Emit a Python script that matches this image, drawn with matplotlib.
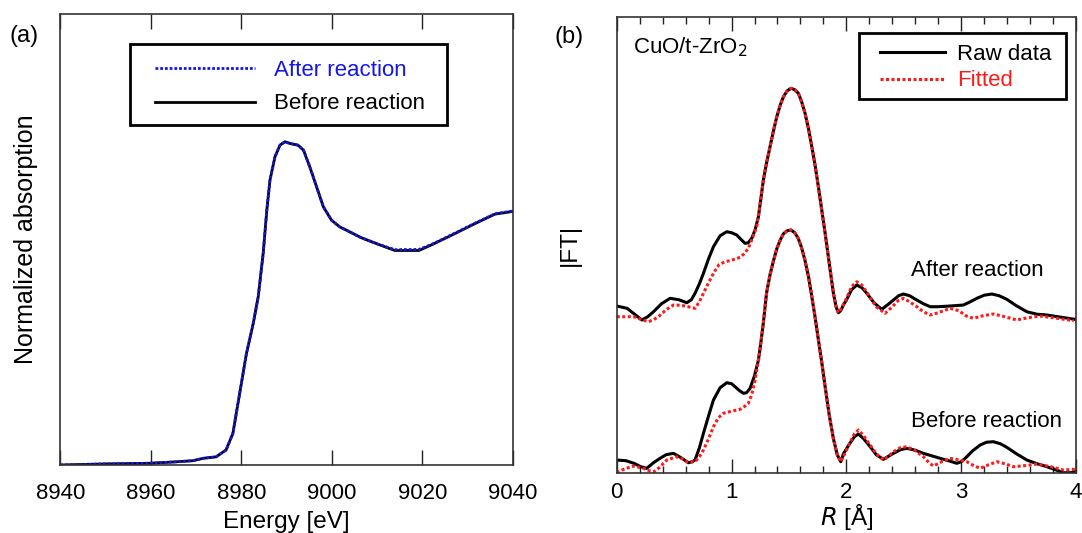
import matplotlib
matplotlib.use('Agg')
import matplotlib.pyplot as plt
import numpy as np
from matplotlib.ticker import MultipleLocator
from matplotlib.patches import Rectangle

plt.rcParams['font.family'] = ['Liberation Sans', 'DejaVu Sans']

# (a) XANES, energy in eV, normalized absorption
energy = [8940, 8950, 8959.6, 8965, 8969.3, 8971.5, 8974.4, 8976.6, 8978.1, 8979.6,
          8981.1, 8982.6, 8983.7, 8984.8, 8985.6, 8986.3, 8987.4, 8988.5, 8989.6, 8990.7,
          8992.5, 8993.7, 8995.1, 8996.6, 8998.1, 8999.9, 9001.7, 9003.9, 9006.4, 9010.2,
          9013.9, 9019.2, 9022.3, 9026.9, 9031.4, 9036, 9040]
before_abs = [0.0, 0.005, 0.008, 0.014, 0.020, 0.031, 0.038, 0.070, 0.147, 0.333,
              0.519, 0.659, 0.783, 0.985, 1.186, 1.326, 1.434, 1.488, 1.504, 1.496,
              1.488, 1.465, 1.387, 1.294, 1.201, 1.139, 1.108, 1.085, 1.058, 1.027,
              0.998, 0.998, 1.027, 1.074, 1.121, 1.167, 1.180]
after_abs = [0.0, 0.005, 0.008, 0.014, 0.020, 0.031, 0.038, 0.070, 0.147, 0.333,
             0.519, 0.659, 0.783, 0.985, 1.186, 1.326, 1.434, 1.488, 1.504, 1.496,
             1.488, 1.465, 1.387, 1.294, 1.201, 1.139, 1.108, 1.085, 1.058, 1.027,
             1.002, 1.003, 1.029, 1.076, 1.123, 1.169, 1.182]

# (b) |FT| of EXAFS, R in angstrom
r_after_raw = [0, 0.09, 0.15, 0.218, 0.27, 0.32, 0.39, 0.465, 0.54, 0.61,
               0.65, 0.682, 0.72, 0.755, 0.8, 0.842, 0.9, 0.958, 1.0, 1.045,
               1.085, 1.117, 1.145, 1.176, 1.205, 1.234, 1.255, 1.277, 1.305, 1.335,
               1.365, 1.394, 1.425, 1.452, 1.485, 1.518, 1.55, 1.582, 1.61, 1.64,
               1.67, 1.699, 1.728, 1.756, 1.785, 1.815, 1.85, 1.887, 1.91, 1.93,
               1.95, 1.975, 2.0, 2.045, 2.09, 2.135, 2.178, 2.24, 2.308, 2.36,
               2.41, 2.455, 2.497, 2.55, 2.613, 2.67, 2.73, 2.8, 2.903, 3.02,
               3.08, 3.136, 3.2, 3.267, 3.33, 3.397, 3.48, 3.571, 3.66, 3.746,
               3.87, 3.99]
ft_after_raw = [0.167, 0.144, 0.09, 0.027, 0.06, 0.11, 0.19, 0.244, 0.23, 0.20,
                0.23, 0.294, 0.39, 0.494, 0.64, 0.76, 0.87, 0.91, 0.90, 0.877,
                0.83, 0.794, 0.80, 0.844, 0.93, 1.06, 1.24, 1.427, 1.60, 1.76,
                1.92, 2.06, 2.18, 2.26, 2.32, 2.344, 2.33, 2.294, 2.21, 2.094,
                1.94, 1.76, 1.57, 1.36, 1.13, 0.894, 0.60, 0.294, 0.16, 0.10,
                0.12, 0.18, 0.227, 0.33, 0.377, 0.35, 0.294, 0.20, 0.134, 0.18,
                0.227, 0.27, 0.287, 0.27, 0.227, 0.19, 0.16, 0.16, 0.167, 0.177,
                0.21, 0.244, 0.275, 0.287, 0.27, 0.234, 0.17, 0.11, 0.085, 0.077,
                0.055, 0.034]

r_after_fit = [0, 0.15, 0.22, 0.276, 0.32, 0.363, 0.43, 0.494, 0.55, 0.595,
               0.682, 0.72, 0.755, 0.8, 0.842, 0.89, 0.943, 1.0, 1.074, 1.11,
               1.146, 1.18, 1.219, 1.25, 1.277, 1.305, 1.335, 1.365, 1.394, 1.425,
               1.452, 1.485, 1.518, 1.55, 1.582, 1.61, 1.64, 1.67, 1.699, 1.728,
               1.756, 1.785, 1.815, 1.85, 1.887, 1.91, 1.93, 1.95, 2.0, 2.045,
               2.09, 2.14, 2.193, 2.26, 2.337, 2.4, 2.45, 2.497, 2.55, 2.613,
               2.67, 2.73, 2.8, 2.903, 2.98, 3.04, 3.107, 3.19, 3.28, 3.38,
               3.484, 3.58, 3.687, 3.8, 3.98]
ft_after_fit = [0.06, 0.06, 0.03, 0.01, 0.03, 0.06, 0.13, 0.177, 0.175, 0.167,
                0.144, 0.21, 0.294, 0.40, 0.494, 0.58, 0.61, 0.625, 0.654, 0.69,
                0.744, 0.84, 0.96, 1.2, 1.427, 1.60, 1.76, 1.92, 2.06, 2.18,
                2.26, 2.32, 2.344, 2.33, 2.294, 2.21, 2.094, 1.94, 1.76, 1.57,
                1.36, 1.13, 0.894, 0.60, 0.294, 0.16, 0.10, 0.13, 0.24, 0.36,
                0.41, 0.37, 0.277, 0.16, 0.094, 0.16, 0.22, 0.244, 0.21, 0.16,
                0.11, 0.077, 0.10, 0.144, 0.12, 0.07, 0.044, 0.07, 0.087, 0.06,
                0.027, 0.05, 0.067, 0.05, 0.02]

r_before_raw = [0, 0.08, 0.15, 0.21, 0.261, 0.32, 0.377, 0.43, 0.494, 0.56,
                0.624, 0.66, 0.682, 0.72, 0.755, 0.8, 0.842, 0.9, 0.958, 1.0,
                1.03, 1.07, 1.103, 1.13, 1.161, 1.2, 1.234, 1.255, 1.277, 1.305,
                1.335, 1.365, 1.394, 1.425, 1.452, 1.485, 1.518, 1.55, 1.582, 1.61,
                1.64, 1.67, 1.699, 1.728, 1.756, 1.786, 1.815, 1.85, 1.887, 1.92,
                1.951, 1.975, 2.03, 2.07, 2.105, 2.15, 2.207, 2.26, 2.322, 2.36,
                2.41, 2.47, 2.526, 2.6, 2.67, 2.74, 2.816, 2.89, 2.962, 3.0,
                3.049, 3.1, 3.165, 3.22, 3.28, 3.34, 3.397, 3.48, 3.571, 3.66,
                3.746, 3.82, 3.89, 3.95, 3.99]
ft_before_raw = [0.127, 0.12, 0.094, 0.06, 0.044, 0.10, 0.144, 0.18, 0.194, 0.15,
                 0.10, 0.11, 0.127, 0.25, 0.394, 0.57, 0.727, 0.85, 0.90, 0.89,
                 0.86, 0.82, 0.794, 0.80, 0.844, 0.97, 1.127, 1.30, 1.50, 1.80,
                 1.98, 2.12, 2.24, 2.33, 2.39, 2.42, 2.427, 2.40, 2.34, 2.25,
                 2.12, 1.96, 1.76, 1.55, 1.33, 1.10, 0.86, 0.58, 0.34, 0.18,
                 0.11, 0.19, 0.294, 0.36, 0.387, 0.34, 0.26, 0.18, 0.134, 0.16,
                 0.194, 0.23, 0.244, 0.225, 0.194, 0.17, 0.144, 0.12, 0.094, 0.11,
                 0.16, 0.22, 0.277, 0.305, 0.31, 0.29, 0.254, 0.19, 0.127, 0.09,
                 0.06, 0.03, 0.0, 0.0, 0.01]

r_before_fit = [0, 0.07, 0.15, 0.232, 0.28, 0.32, 0.37, 0.436, 0.523, 0.57,
                0.61, 0.682, 0.72, 0.755, 0.8, 0.842, 0.885, 0.929, 1.0, 1.074,
                1.11, 1.146, 1.175, 1.205, 1.234, 1.255, 1.277, 1.305, 1.335, 1.365,
                1.394, 1.425, 1.452, 1.485, 1.518, 1.55, 1.582, 1.61, 1.64, 1.67,
                1.699, 1.728, 1.756, 1.786, 1.815, 1.85, 1.887, 1.92, 1.951, 1.99,
                2.03, 2.07, 2.105, 2.15, 2.207, 2.26, 2.322, 2.36, 2.41, 2.47,
                2.526, 2.6, 2.67, 2.72, 2.758, 2.83, 2.903, 2.97, 3.049, 3.11,
                3.165, 3.24, 3.31, 3.38, 3.455, 3.55, 3.658, 3.78, 3.89, 3.99]
ft_before_fit = [0.0, 0.04, 0.067, 0.044, 0.02, 0.007, 0.05, 0.127, 0.16, 0.14,
                 0.11, 0.11, 0.16, 0.227, 0.34, 0.46, 0.55, 0.594, 0.615, 0.634,
                 0.66, 0.694, 0.78, 0.927, 1.127, 1.30, 1.50, 1.80, 1.98, 2.12,
                 2.24, 2.33, 2.39, 2.42, 2.427, 2.40, 2.34, 2.25, 2.12, 1.96,
                 1.76, 1.55, 1.33, 1.10, 0.86, 0.58, 0.34, 0.18, 0.11, 0.20,
                 0.30, 0.39, 0.427, 0.37, 0.277, 0.19, 0.127, 0.16, 0.21, 0.25,
                 0.26, 0.22, 0.16, 0.10, 0.067, 0.11, 0.144, 0.13, 0.11, 0.07,
                 0.044, 0.08, 0.11, 0.09, 0.06, 0.07, 0.087, 0.06, 0.027, 0.034]

after_offset = 1.5
blue = '#1515e6'
red = '#ff1a1a'

fig = plt.figure(figsize=(10.82, 5.33), dpi=100)

# ---- panel (a)
ax1 = fig.add_axes([0.0559, 0.1276, 0.4182, 0.846])
ax1.plot(energy, before_abs, color='black', lw=2.0, label='Before reaction')
ax1.plot(energy, after_abs, color=blue, lw=2.0, ls=(0, (1.0, 0.7)), label='After reaction')
ax1.set_xlim(8940, 9040)
ax1.set_ylim(0, 2.098)
ax1.xaxis.set_major_locator(MultipleLocator(20))
ax1.set_yticks([])
ax1.tick_params(axis='x', direction='in', top=True, bottom=True, length=11, width=1.0,
                labelsize=16, pad=13, color='#222222')
ax1.set_xlabel('Energy [eV]', fontsize=17.5, labelpad=5)
ax1.set_ylabel('Normalized absorption', fontsize=18, labelpad=16)
for s in ax1.spines.values():
    s.set_color('#333333')
    s.set_linewidth(1.2)

h, l = ax1.get_legend_handles_labels()
leg1 = ax1.legend(h[::-1], l[::-1], loc='upper left', bbox_to_anchor=(0.1713, 0.9346),
                  fontsize=16, frameon=False, handlelength=4.5, handletextpad=0.85,
                  borderpad=0.75, labelspacing=0.55, borderaxespad=0)
leg1.get_texts()[0].set_color(blue)
ax1.add_patch(Rectangle((0.1536, 0.7545), 0.8541 - 0.1536, 0.9346 - 0.7545,
                        transform=ax1.transAxes, fill=True, fc='white', ec='black',
                        lw=2.0, zorder=4))

# ---- panel (b)
ax2 = fig.add_axes([0.570, 0.1131, 0.4245, 0.8544])
ax2.plot(r_after_raw, np.array(ft_after_raw) + after_offset, color='black', lw=2.2, label='Raw data')
ax2.plot(r_after_fit, np.array(ft_after_fit) + after_offset, color=red, lw=2.2, ls=(0, (1.0, 0.8)), label='Fitted')
ax2.plot(r_before_raw, ft_before_raw, color='black', lw=2.2)
ax2.plot(r_before_fit, ft_before_fit, color=red, lw=2.2, ls=(0, (1.0, 0.8)))
ax2.set_xlim(0, 4)
ax2.set_ylim(0, 4.554)
ax2.xaxis.set_major_locator(MultipleLocator(1))
ax2.xaxis.set_minor_locator(MultipleLocator(0.2))
ax2.set_yticks([])
ax2.tick_params(axis='x', which='major', direction='in', top=True, bottom=True, length=10,
                width=1.0, labelsize=16, pad=7, color='#222222')
ax2.tick_params(axis='x', which='minor', direction='in', top=True, bottom=True, length=5,
                width=1.0, color='#222222')
ax2.set_xlabel(r'$\it{R}$ [Å]', fontsize=17.5, labelpad=-1)
ax2.set_ylabel('|FT|', fontsize=17.5, labelpad=26)
for s in ax2.spines.values():
    s.set_color('#333333')
    s.set_linewidth(1.2)

leg2 = ax2.legend(loc='upper left', bbox_to_anchor=(0.540, 0.9758),
                  fontsize=16, frameon=False, handlelength=2.9, handletextpad=0.55,
                  borderpad=0.7, labelspacing=0.25, borderaxespad=0)
leg2.get_texts()[1].set_color(red)
ax2.add_patch(Rectangle((0.527, 0.8206), 0.978 - 0.527, 0.965 - 0.8206,
                        transform=ax2.transAxes, fill=True, fc='white', ec='black',
                        lw=2.0, zorder=4))

ax2.text(0.036, 0.935, 'CuO/t-ZrO$_2$', transform=ax2.transAxes, fontsize=16, va='center')
ax2.text(0.64, 0.445, 'After reaction', transform=ax2.transAxes, fontsize=16, va='center')
ax2.text(0.64, 0.112, 'Before reaction', transform=ax2.transAxes, fontsize=16, va='center')

fig.text(24 / 1082, 1 - 36 / 533, '(a)', fontsize=17, ha='center', va='center')
fig.text(569 / 1082, 1 - 37 / 533, '(b)', fontsize=17, ha='center', va='center')

fig.savefig('out.png', dpi=100)
